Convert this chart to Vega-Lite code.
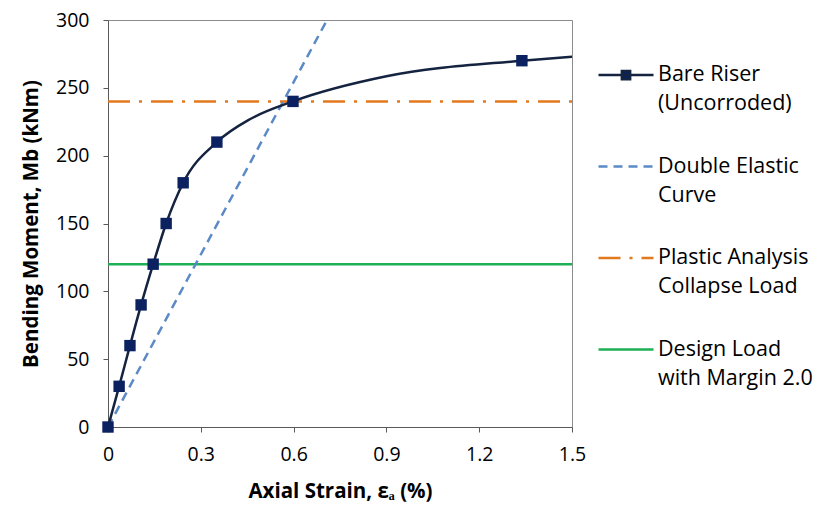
{
  "$schema": "https://vega.github.io/schema/vega-lite/v6.json",
  "width": 464,
  "height": 407,
  "autosize": "none",
  "padding": {"left": 108, "top": 20, "right": 252, "bottom": 82},
  "background": "white",
  "config": {
    "font": "Open Sans",
    "view": {"stroke": "#8c8c8c", "strokeWidth": 1},
    "axis": {
      "grid": false,
      "labelFlush": false,
      "domainColor": "#595959",
      "tickColor": "#595959",
      "tickSize": 5,
      "labelFont": "Open Sans",
      "labelFontSize": 19.5,
      "labelColor": "#000000",
      "titleFont": "Open Sans",
      "titleFontSize": 20.5,
      "titleFontWeight": "bold",
      "titleColor": "#000000"
    },
    "legend": {
      "labelFont": "Open Sans",
      "labelFontSize": 21.5,
      "labelColor": "#000000",
      "labelLimit": 300
    }
  },
  "datasets": {
    "curve": [
      {"strain": 0, "moment": 0, "series": "Bare Riser (Uncorroded)"},
      {"strain": 0.036, "moment": 30, "series": "Bare Riser (Uncorroded)"},
      {"strain": 0.071, "moment": 60, "series": "Bare Riser (Uncorroded)"},
      {"strain": 0.107, "moment": 90, "series": "Bare Riser (Uncorroded)"},
      {"strain": 0.146, "moment": 120, "series": "Bare Riser (Uncorroded)"},
      {"strain": 0.188, "moment": 150, "series": "Bare Riser (Uncorroded)"},
      {"strain": 0.243, "moment": 180, "series": "Bare Riser (Uncorroded)"},
      {"strain": 0.352, "moment": 210, "series": "Bare Riser (Uncorroded)"},
      {"strain": 0.46, "moment": 227, "series": "Bare Riser (Uncorroded)"},
      {"strain": 0.598, "moment": 240, "series": "Bare Riser (Uncorroded)"},
      {"strain": 0.9, "moment": 258.5, "series": "Bare Riser (Uncorroded)"},
      {"strain": 1.338, "moment": 270, "series": "Bare Riser (Uncorroded)"},
      {"strain": 1.5, "moment": 273, "series": "Bare Riser (Uncorroded)"}
    ],
    "markers": [
      {"strain": 0, "moment": 0},
      {"strain": 0.036, "moment": 30},
      {"strain": 0.071, "moment": 60},
      {"strain": 0.107, "moment": 90},
      {"strain": 0.146, "moment": 120},
      {"strain": 0.188, "moment": 150},
      {"strain": 0.243, "moment": 180},
      {"strain": 0.352, "moment": 210},
      {"strain": 0.598, "moment": 240},
      {"strain": 1.338, "moment": 270}
    ],
    "elastic": [
      {"strain": 0, "moment": 0, "series": "Double Elastic Curve"},
      {"strain": 0.708, "moment": 300, "series": "Double Elastic Curve"}
    ],
    "plastic": [
      {"strain": 0, "moment": 240, "series": "Plastic Analysis Collapse Load"},
      {"strain": 1.5, "moment": 240, "series": "Plastic Analysis Collapse Load"}
    ],
    "design": [
      {"strain": 0, "moment": 120, "series": "Design Load with Margin 2.0"},
      {"strain": 1.5, "moment": 120, "series": "Design Load with Margin 2.0"}
    ]
  },
  "encoding": {
    "x": {
      "field": "strain", "type": "quantitative",
      "scale": {"domain": [0, 1.5], "nice": false, "zero": false},
      "axis": {"values": [0, 0.3, 0.6, 0.9, 1.2, 1.5], "format": "~g", "labelPadding": 13, "title": "Axial Strain, εₐ (%)", "titlePadding": 18}
    },
    "y": {
      "field": "moment", "type": "quantitative",
      "scale": {"domain": [0, 300], "nice": false},
      "axis": {"values": [0, 50, 100, 150, 200, 250, 300], "labelPadding": 14, "title": "Bending Moment, Mb (kNm)", "titlePadding": 14}
    }
  },
  "layer": [
    {
      "data": {"name": "design"},
      "mark": {"type": "line", "strokeWidth": 2.5, "clip": true},
      "encoding": {"color": {"field": "series", "type": "nominal"}}
    },
    {
      "data": {"name": "plastic"},
      "mark": {"type": "line", "strokeWidth": 2.5, "strokeDash": [22, 9, 3, 9], "clip": true},
      "encoding": {"color": {"field": "series", "type": "nominal"}}
    },
    {
      "data": {"name": "elastic"},
      "mark": {"type": "line", "strokeWidth": 2.5, "strokeDash": [9, 6], "clip": true},
      "encoding": {"color": {"field": "series", "type": "nominal"}}
    },
    {
      "data": {"name": "curve"},
      "mark": {"type": "line", "strokeWidth": 2.5, "interpolate": "monotone", "clip": true},
      "encoding": {
        "color": {
          "field": "series", "type": "nominal",
          "scale": {
            "domain": ["Bare Riser (Uncorroded)", "Double Elastic Curve", "Plastic Analysis Collapse Load", "Design Load with Margin 2.0"],
            "range": ["#14233f", "#5b8ac6", "#e2791e", "#1db054"]
          },
          "legend": {
            "title": null,
            "orient": "none",
            "legendX": 489,
            "legendY": 26,
            "symbolSize": 3025,
            "symbolStrokeWidth": 2.5,
            "labelOffset": 3,
            "rowPadding": 22.5,
            "labelExpr": "datum.value == 'Bare Riser (Uncorroded)' ? ['Bare Riser', '(Uncorroded)'] : datum.value == 'Double Elastic Curve' ? ['Double Elastic', 'Curve'] : datum.value == 'Plastic Analysis Collapse Load' ? ['Plastic Analysis', 'Collapse Load'] : ['Design Load', 'with Margin 2.0']",
            "encode": {
              "symbols": {
                "update": {
                  "shape": {"signal": "datum.value == 'Bare Riser (Uncorroded)' ? 'M-1,0H1M-0.15,-0.15H0.15V0.15H-0.15Z' : 'M-1,0H1'"},
                  "fill": {"signal": "datum.value == 'Bare Riser (Uncorroded)' ? '#0b2160' : 'transparent'"},
                  "strokeDash": {"signal": "datum.value == 'Double Elastic Curve' ? [9, 6] : datum.value == 'Plastic Analysis Collapse Load' ? [22, 9, 3, 9] : [1, 0]"},
                  "opacity": {"value": 1}
                }
              },
              "labels": {
                "update": {"lineHeight": {"value": 29}}
              }
            }
          }
        }
      }
    },
    {
      "data": {"name": "markers"},
      "mark": {"type": "point", "shape": "square", "filled": true, "size": 130, "color": "#0b2160", "opacity": 1, "clip": false}
    }
  ]
}
